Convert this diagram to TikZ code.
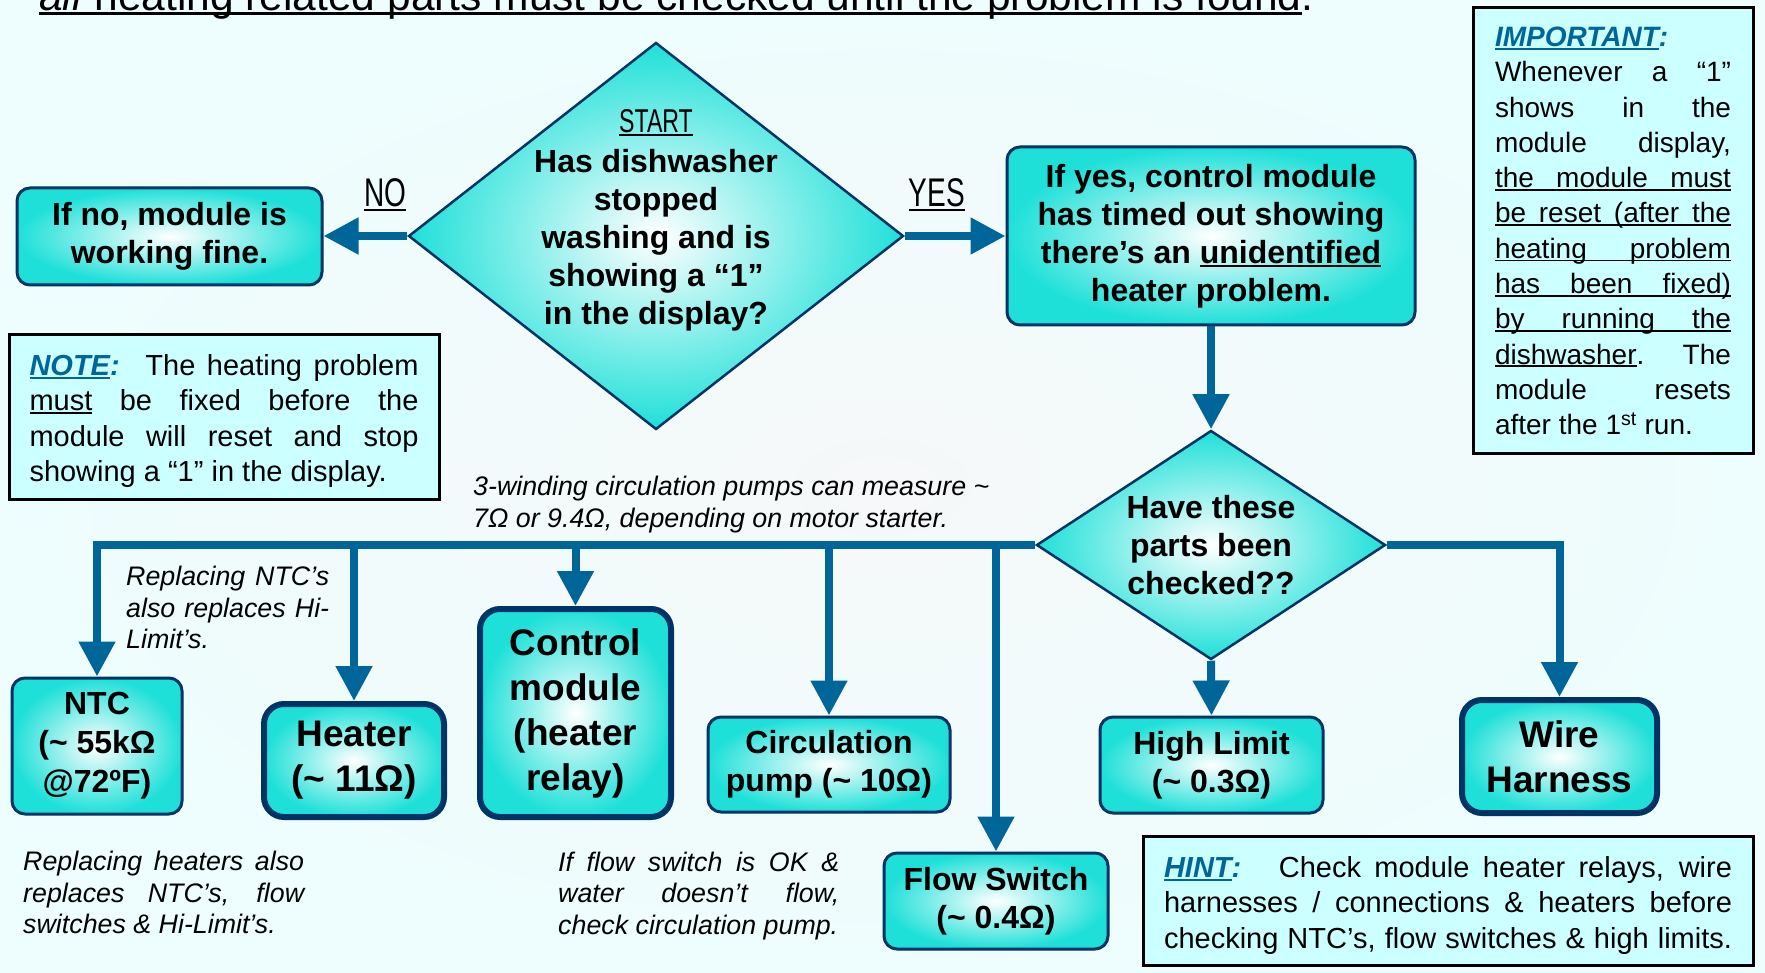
\documentclass[tikz,border=0pt]{standalone}
\usepackage{fontspec}
\setmainfont{Liberation Sans}
\newfontfamily\condfont[FakeStretch=0.7]{Liberation Sans}
\usepackage{tikz}
\usetikzlibrary{arrows.meta,shapes.geometric}
\definecolor{turqFill}{RGB}{30,224,216}
\definecolor{navyLine}{RGB}{0,51,102}
\definecolor{flowBlue}{RGB}{0,102,153}
\definecolor{noteFill}{RGB}{204,255,255}
\definecolor{bgInner}{RGB}{246,248,249}
\definecolor{bgOuter}{RGB}{238,253,253}
\newcommand\wordul[1]{\setbox0\hbox{#1}\rlap{\rule[-0.11em]{\wd0}{0.065em}}\box0\relax}
\newcommand\jline[2]{\makebox[#1][s]{#2}}
\newcommand\boxfont{\bfseries\fontsize{32}{38}\selectfont}
\newcommand\bigfont{\bfseries\fontsize{37}{45}\selectfont}
\newcommand\notefont{\fontsize{29}{35.3}\selectfont}
\newcommand\sidefont{\itshape\fontsize{26.8}{31.5}\selectfont}
\tikzset{
  partbox/.style={draw=navyLine, line width=3pt, rounded corners=13pt, inner color=white, outer color=turqFill, align=center, inner sep=0pt, font=\boxfont},
  bigpart/.style={partbox, line width=6pt, rounded corners=20pt, font=\bigfont},
  query/.style={diamond, draw=navyLine, line width=2.5pt, inner color=white, outer color=turqFill, align=center, inner sep=-30pt, font=\boxfont},
  notebox/.style={draw=black, line width=3pt, fill=noteFill, align=left, inner sep=0pt, font=\notefont},
  sidenote/.style={align=left, inner sep=0pt, font=\sidefont},
  answer/.style={inner sep=0pt, font=\condfont\fontsize{40}{40}\selectfont},
  flow/.style={draw=flowBlue, line width=8pt, -{Triangle[length=35pt, width=35pt]}}
}
\begin{document}
\begin{tikzpicture}[x=1pt, y=-1pt]
        \useasboundingbox (0,0) rectangle (1765,973);
        \clip (0,0) rectangle (1765,973);
        \shade[inner color=bgInner, outer color=bgOuter] (0,0) rectangle (1765,973);
        \node[anchor=base west, inner sep=0pt, font=\fontsize{42.5}{42.5}\selectfont] (title) at (39,10.5) {\wordul{\textit{all} heating related parts must be checked until the problem is found}.};
        \node[partbox, minimum width=305pt, minimum height=97pt] (nofine) at (169.5,236.5) {If no, module is\\working fine.};
        \node[query, minimum width=495pt, minimum height=387pt] (start) at (656,236) {{\condfont\mdseries\fontsize{33}{38}\selectfont\wordul{START}}\\[2pt]Has dishwasher\\stopped\\washing and is\\showing a “1”\\in the display?\\\mbox{}};
        \node[partbox, minimum width=408pt, minimum height=178pt] (timeout) at (1211,236) {If yes, control module\\has timed out showing\\there’s an \wordul{unidentified}\\heater problem.};
        \node[query, minimum width=349pt, minimum height=229pt] (checked) at (1211,545) {Have these\\parts been\\checked??};
        \node[answer, anchor=base] (nolab) at (385,207) {\wordul{NO}};
        \node[answer, anchor=base] (yeslab) at (937,207) {\wordul{YES}};
        \node[partbox, minimum width=170pt, minimum height=136pt, font=\bfseries\fontsize{32}{39}\selectfont] (ntc) at (97,746) {NTC\\(\textasciitilde\ 55kΩ\\@72ºF)};
        \node[bigpart, minimum width=180pt, minimum height=113pt] (heater) at (354,760.5) {Heater\\(\textasciitilde\ 11Ω)};
        \node[bigpart, minimum width=191pt, minimum height=208pt] (ctrl) at (575.5,713) {Control\\module\\(heater\\relay)};
        \node[partbox, minimum width=242pt, minimum height=95pt] (pump) at (829,764.5) {Circulation\\pump (\textasciitilde\ 10Ω)};
        \node[partbox, minimum width=224pt, minimum height=96pt] (flowsw) at (996,901) {Flow Switch\\(\textasciitilde\ 0.4Ω)};
        \node[partbox, minimum width=223pt, minimum height=96pt] (hilimit) at (1211.5,765) {High Limit\\(\textasciitilde\ 0.3Ω)};
        \node[bigpart, minimum width=195pt, minimum height=113pt] (harness) at (1559.5,756.5) {Wire\\Harness};
        \node[notebox, minimum width=430pt, minimum height=164pt] (note) at (224,417) {\rule{0pt}{29pt}\jline{389pt}{\textcolor{flowBlue}{\bfseries\itshape\wordul{NOTE}:}\hspace{8pt} The heating problem}\\\jline{389pt}{\wordul{must} be fixed before the}\\\jline{389pt}{module will reset and stop}\\showing a “1” in the display.};
        \node[notebox, minimum width=280pt, minimum height=446pt, font=\fontsize{28}{35.3}\selectfont] (important) at (1613,231) {\textcolor{flowBlue}{\bfseries\itshape\wordul{IMPORTANT}:}\\\jline{236pt}{Whenever a “1”}\\\jline{236pt}{shows in the}\\\jline{236pt}{module display,}\\\wordul{\jline{236pt}{the module must}}\\\wordul{\jline{236pt}{be reset (after the}}\\\wordul{\jline{236pt}{heating problem}}\\\wordul{\jline{236pt}{has been fixed)}}\\\wordul{\jline{236pt}{by running the}}\\\jline{236pt}{\wordul{dishwasher}. The}\\\jline{236pt}{module resets}\\after the 1\textsuperscript{st} run.};
        \node[notebox, minimum width=610pt, minimum height=129pt] (hint) at (1448,900.5) {\rule{0pt}{31pt}\jline{568pt}{\textcolor{flowBlue}{\bfseries\itshape\wordul{HINT}:}\hspace{16pt} Check module heater relays, wire}\\\jline{568pt}{harnesses / connections \& heaters before}\\\jline{568pt}{checking NTC’s, flow switches \& high limits.}};
        \node[sidenote, anchor=west] (pumpnote) at (473,504.5) {3-winding circulation pumps can measure \textasciitilde\\7Ω or 9.4Ω, depending on motor starter.};
        \node[sidenote, anchor=west] (ntcnote) at (126,607.5) {\jline{203pt}{Replacing NTC’s}\\\jline{203pt}{also replaces Hi-}\\Limit’s.};
        \node[sidenote, anchor=west] (heaternote) at (23,892.5) {\jline{281pt}{Replacing heaters also}\\\jline{281pt}{replaces NTC’s, flow}\\switches \& Hi-Limit’s.};
        \node[sidenote, anchor=west] (flownote) at (558,896) {\jline{281pt}{If flow switch is OK \&}\\\jline{281pt}{water doesn’t flow,}\\check circulation pump.};
        \draw[flow] (start.west) -- (start.west -| nofine.east);
        \draw[flow] (start.east) -- (start.east -| timeout.west);
        \draw[flow] (timeout.south) -- (checked.north);
        \draw[flow] (checked.west) -| (ntc.north);
        \draw[flow] (heater.north |- checked.west) -- (heater.north);
        \draw[flow] (ctrl.north |- checked.west) -- (ctrl.north);
        \draw[flow] (pump.north |- checked.west) -- (pump.north);
        \draw[flow] (flowsw.north |- checked.west) -- (flowsw.north);
        \draw[flow] (checked.south) -- (hilimit.north);
        \draw[flow] (checked.east) -| (harness.north);
      \end{tikzpicture}
\end{document}
